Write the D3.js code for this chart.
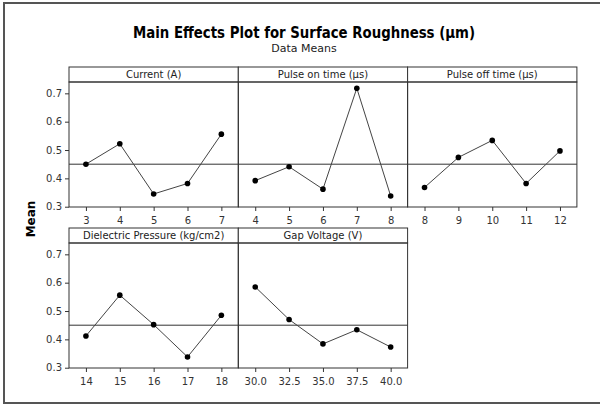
<!DOCTYPE html>
<html>
<head>
<meta charset="utf-8">
<script src="https://cdn.jsdelivr.net/npm/d3@7"></script>
<style>
  body { margin: 0; background: #fff; }
  svg { display: block; }
</style>
</head>
<body>
<svg id="chart" width="600" height="406"></svg>
<script>
// factor names and their levels / means
const factors = ["Current (A)", "Pulse on time (μs)", "Pulse off time (μs)", "Dielectric Pressure (kg/cm2)", "Gap Voltage (V)"];
const currentLevels = ["3", "4", "5", "6", "7"];
const pulseOnLevels = ["4", "5", "6", "7", "8"];
const pulseOffLevels = ["8", "9", "10", "11", "12"];
const pressureLevels = ["14", "15", "16", "17", "18"];
const gapLevels = ["30.0", "32.5", "35.0", "37.5", "40.0"];

const currentMeans = [0.450, 0.522, 0.345, 0.382, 0.556];
const pulseOnMeans = [0.392, 0.441, 0.362, 0.718, 0.338];
const pulseOffMeans = [0.368, 0.474, 0.534, 0.382, 0.497];
const pressureMeans = [0.412, 0.556, 0.452, 0.338, 0.485];
const gapMeans = [0.585, 0.470, 0.384, 0.434, 0.373];

const grandMean = 0.45;
const yTicks = [0.3, 0.4, 0.5, 0.6, 0.7];

const levels = [currentLevels, pulseOnLevels, pulseOffLevels, pressureLevels, gapLevels];
const means = [currentMeans, pulseOnMeans, pulseOffMeans, pressureMeans, gapMeans];

const svg = d3.select("#chart");
const font = "Tahoma, 'DejaVu Sans', sans-serif";

// outer frame
svg.append("rect")
  .attr("x", 4).attr("y", 3).attr("width", 600).attr("height", 400)
  .attr("fill", "none").attr("stroke", "#555").attr("stroke-width", 2);

svg.append("text")
  .attr("x", 304).attr("y", 38)
  .attr("text-anchor", "middle")
  .attr("textLength", 342).attr("lengthAdjust", "spacingAndGlyphs")
  .style("font-family", font).style("font-weight", "bold").style("font-size", "15px")
  .text("Main Effects Plot for Surface Roughness (μm)");

svg.append("text")
  .attr("x", 304).attr("y", 52)
  .attr("text-anchor", "middle")
  .style("font-family", font).style("font-size", "11px").attr("fill", "#222")
  .text("Data Means");

svg.append("text")
  .attr("transform", "translate(35,219) rotate(-90)")
  .attr("text-anchor", "middle")
  .style("font-family", font).style("font-weight", "bold").style("font-size", "12px")
  .text("Mean");

const panelW = 169.3;
const left = 69;
const headerH = 15;
const plotH = 125;
const rowTops = [67, 228];

const y = d3.scaleLinear().domain([0.299, 0.74]).range([plotH, 0]);

factors.forEach((name, i) => {
  const col = i % 3, row = Math.floor(i / 3);
  const g = svg.append("g")
    .attr("transform", `translate(${left + col * panelW},${rowTops[row]})`);

  const x = d3.scalePoint().domain(levels[i]).range([0, panelW]).padding(0.5);

  // header strip
  g.append("rect")
    .attr("width", panelW).attr("height", headerH)
    .attr("fill", "#fff").attr("stroke", "#333");
  g.append("text")
    .attr("x", panelW / 2).attr("y", 11)
    .attr("text-anchor", "middle")
    .style("font-family", font).style("font-size", "10px").attr("fill", "#222")
    .text(name);

  const p = g.append("g").attr("transform", `translate(0,${headerH})`);

  p.append("rect")
    .attr("width", panelW).attr("height", plotH)
    .attr("fill", "none").attr("stroke", "#333");

  // reference line at the overall mean
  p.append("line")
    .attr("x1", 0).attr("x2", panelW)
    .attr("y1", y(grandMean)).attr("y2", y(grandMean))
    .attr("stroke", "#333");

  const xAxis = p.append("g")
    .attr("transform", `translate(0,${plotH})`)
    .call(d3.axisBottom(x).tickSize(4).tickPadding(6));
  xAxis.select(".domain").remove();
  xAxis.selectAll("line").attr("stroke", "#333");
  xAxis.selectAll("text").style("font-family", font).style("font-size", "10px").attr("fill", "#333");

  if (col === 0) {
    const yAxis = p.append("g")
      .call(d3.axisLeft(y).tickValues(yTicks).tickFormat(d3.format(".1f")).tickSize(4).tickPadding(3));
    yAxis.select(".domain").remove();
    yAxis.selectAll("line").attr("stroke", "#333");
    yAxis.selectAll("text").style("font-family", font).style("font-size", "10px").attr("fill", "#333");
  }

  const pts = levels[i].map((l, k) => ({ l, v: means[i][k] }));

  p.append("path")
    .datum(pts)
    .attr("fill", "none").attr("stroke", "#444").attr("stroke-width", 1)
    .attr("d", d3.line().x(d => x(d.l)).y(d => y(d.v)));

  p.selectAll("circle")
    .data(pts)
    .join("circle")
    .attr("cx", d => x(d.l)).attr("cy", d => y(d.v))
    .attr("r", 2.8).attr("fill", "#000");
});
</script>
</body>
</html>
